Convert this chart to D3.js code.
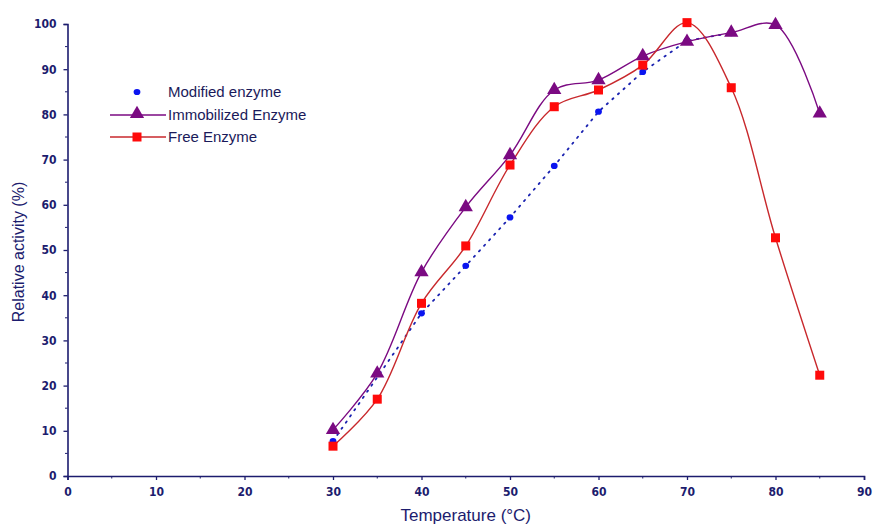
<!DOCTYPE html>
<html>
<head>
<meta charset="utf-8">
<script src="https://cdn.jsdelivr.net/npm/d3@7"></script>
<style>
  body { margin: 0; background: #fff; }
  svg text { font-family: "Liberation Sans", Arial, sans-serif; }
</style>
</head>
<body>
<div id="chart"></div>
<script>
const temps = [30, 35, 40, 45, 50, 55, 60, 65, 70, 75, 80, 85];
const modifiedTemps = [30, 40, 45, 50, 55, 60, 65, 70, 75];
const modified = [7.7, 36.0, 46.5, 57.2, 68.6, 80.6, 89.4, 96.3, 98.0];
const immobilized = [10.2, 22.7, 45.1, 59.5, 71.0, 85.4, 87.6, 92.9, 96.1, 98.1, 99.8, 80.2];
const free = [6.6, 17.0, 38.2, 50.9, 68.8, 81.7, 85.4, 90.9, 100.3, 85.9, 52.7, 22.3];
const xTicks = [0, 10, 20, 30, 40, 50, 60, 70, 80, 90];
const yTicks = [0, 10, 20, 30, 40, 50, 60, 70, 80, 90, 100];

const W = 873, H = 530;
const margin = {top: 24, right: 9, bottom: 54, left: 67.5};
const axisColor = "#1c1c6e";

const svg = d3.select("#chart").append("svg")
    .attr("width", W)
    .attr("height", H);

const x = d3.scaleLinear().domain([0, 90]).range([margin.left, W - margin.right]);
const y = d3.scaleLinear().domain([0, 100]).range([H - margin.bottom, margin.top]);

// minor ticks every 5
const xMinor = d3.range(5, 90, 10);
const yMinor = d3.range(5, 100, 10);

const gx = svg.append("g")
    .attr("transform", `translate(0,${y(0)})`)
    .call(d3.axisBottom(x).tickValues(xTicks).tickSize(4).tickPadding(7));
gx.append("g").selectAll("line").data(xMinor).join("line")
    .attr("x1", d => x(d)).attr("x2", d => x(d))
    .attr("y1", 0).attr("y2", 2.5)
    .attr("stroke", axisColor);

const gy = svg.append("g")
    .attr("transform", `translate(${x(0)},0)`)
    .call(d3.axisLeft(y).tickValues(yTicks).tickSize(4).tickPadding(7));
gy.append("g").selectAll("line").data(yMinor).join("line")
    .attr("y1", d => y(d)).attr("y2", d => y(d))
    .attr("x1", 0).attr("x2", -2.5)
    .attr("stroke", axisColor);

[gx, gy].forEach(g => {
    g.select(".domain").attr("stroke", axisColor).attr("stroke-width", 1.6);
    g.selectAll(".tick line").attr("stroke", axisColor).attr("stroke-width", 1.3);
    g.selectAll(".tick text")
        .attr("fill", axisColor)
        .style("font-size", "12px")
        .style("font-weight", "bold")
        .style("font-family", "'DejaVu Sans Condensed', 'Liberation Sans Narrow', sans-serif");
});

// axis titles
svg.append("text")
    .attr("x", (x(0) + x(90)) / 2)
    .attr("y", 521)
    .attr("text-anchor", "middle")
    .attr("fill", axisColor)
    .style("font-size", "17px")
    .text("Temperature (°C)");

svg.append("text")
    .attr("transform", `translate(24,${(y(0) + y(100)) / 2 + 2}) rotate(-90)`)
    .attr("text-anchor", "middle")
    .attr("fill", axisColor)
    .style("font-size", "16px")
    .text("Relative activity (%)");

const purple = "#7b0a82", red = "#ff0a0a", blue = "#0a14f0";

// Modified enzyme: dotted straight line
const modData = modifiedTemps.map((t, i) => [t, modified[i]]);
svg.append("path")
    .datum(modData)
    .attr("fill", "none")
    .attr("stroke", "#1a22b0")
    .attr("stroke-width", 1.8)
    .attr("stroke-dasharray", "1.5,6")
    .attr("stroke-linecap", "round")
    .attr("d", d3.line().x(d => x(d[0])).y(d => y(d[1])));
svg.append("g").selectAll("ellipse").data(modData).join("ellipse")
    .attr("cx", d => x(d[0])).attr("cy", d => y(d[1]))
    .attr("rx", 3.4).attr("ry", 3.1)
    .attr("fill", blue);

// Immobilized enzyme
const immData = temps.map((t, i) => [t, immobilized[i]]);
const spline = d3.line().x(d => x(d[0])).y(d => y(d[1])).curve(d3.curveCatmullRom.alpha(0.5));
svg.append("path")
    .datum(immData)
    .attr("fill", "none")
    .attr("stroke", purple)
    .attr("stroke-width", 1.4)
    .attr("d", spline);

// Free enzyme
const freeData = temps.map((t, i) => [t, free[i]]);
svg.append("path")
    .datum(freeData)
    .attr("fill", "none")
    .attr("stroke", "#c8282c")
    .attr("stroke-width", 1.4)
    .attr("d", spline);

const tri = d3.symbol().type(d3.symbolTriangle).size(88);
svg.append("g").selectAll("path").data(immData).join("path")
    .attr("transform", d => `translate(${x(d[0])},${y(d[1])})`)
    .attr("d", tri)
    .attr("fill", purple);

svg.append("g").selectAll("rect").data(freeData).join("rect")
    .attr("x", d => x(d[0]) - 4.5).attr("y", d => y(d[1]) - 4.5)
    .attr("width", 9).attr("height", 9)
    .attr("fill", red);

// legend
const legend = svg.append("g");
const legendText = "#1a1a5a";
legend.append("ellipse").attr("cx", 137).attr("cy", 92).attr("rx", 3.4).attr("ry", 3.1).attr("fill", blue);
legend.append("text").attr("x", 168).attr("y", 97).attr("fill", legendText)
    .style("font-size", "15px").text("Modified enzyme");

legend.append("line").attr("x1", 110).attr("x2", 166).attr("y1", 115).attr("y2", 115)
    .attr("stroke", purple).attr("stroke-width", 1.4);
legend.append("path").attr("transform", "translate(137,114)").attr("d", tri).attr("fill", purple);
legend.append("text").attr("x", 168).attr("y", 120).attr("fill", legendText)
    .style("font-size", "15px").text("Immobilized Enzyme");

legend.append("line").attr("x1", 110).attr("x2", 166).attr("y1", 137).attr("y2", 137)
    .attr("stroke", "#c8282c").attr("stroke-width", 1.4);
legend.append("rect").attr("x", 132.5).attr("y", 132.5).attr("width", 9).attr("height", 9).attr("fill", red);
legend.append("text").attr("x", 168).attr("y", 142).attr("fill", legendText)
    .style("font-size", "15px").text("Free Enzyme");
</script>
</body>
</html>
